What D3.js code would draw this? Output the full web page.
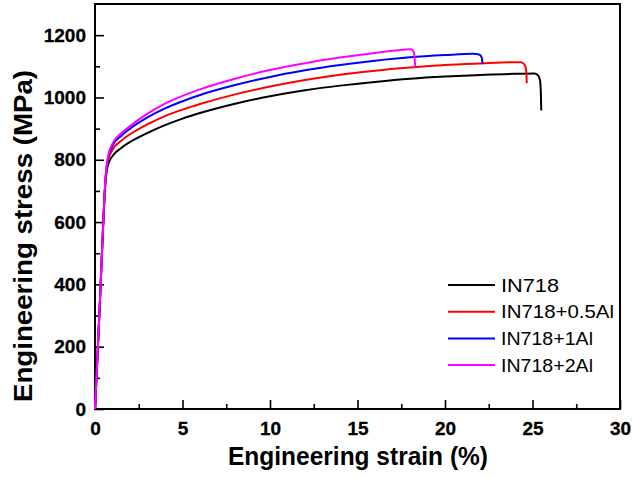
<!DOCTYPE html>
<html>
<head>
<meta charset="utf-8">
<script src="https://cdn.jsdelivr.net/npm/d3@7"></script>
<style>
  body { margin: 0; background: #fff; }
  svg text { font-family: "Liberation Sans", Arial, sans-serif; }
</style>
</head>
<body>
<svg id="chart" width="633" height="477"></svg>
<script>
"use strict";
// values: strain (%) / stress (MPa)
const seriesNames = ['IN718', 'IN718+0.5Al', 'IN718+1Al', 'IN718+2Al'];
const seriesColors = ['#000000', '#ff0000', '#0000ff', '#ff00ff'];

const in718Strain = [0, 0.15, 0.3, 0.45, 0.6, 0.75, 1.0, 1.5, 2, 3, 4, 5, 6, 8, 10, 12, 14, 16, 18, 20, 22, 24, 25.1, 25.3, 25.43, 25.48, 25.5];
const in718Stress = [0, 180, 370, 570, 730, 785, 812, 838, 857, 886, 911, 932, 950, 980, 1004, 1023, 1038, 1050, 1060, 1067, 1072, 1076, 1077, 1072, 1055, 1010, 958];

const al05Strain = [0, 0.15, 0.3, 0.45, 0.6, 0.75, 1.0, 1.5, 2, 3, 4, 5, 6, 8, 10, 12, 14, 16, 18, 20, 22, 24, 24.35, 24.55, 24.64, 24.67];
const al05Stress = [0, 180, 370, 570, 735, 798, 832, 861, 882, 914, 940, 961, 979, 1010, 1035, 1056, 1073, 1086, 1096, 1104, 1109, 1113, 1113, 1105, 1085, 1046];

const al1Strain = [0, 0.15, 0.3, 0.45, 0.6, 0.75, 1.0, 1.5, 2, 3, 4, 5, 6, 8, 10, 12, 14, 16, 18, 20, 21.6, 21.95, 22.1, 22.15];
const al1Stress = [0, 180, 370, 570, 740, 806, 845, 877, 900, 936, 965, 988, 1008, 1040, 1066, 1087, 1104, 1118, 1129, 1136, 1140, 1138, 1128, 1107];

const al2Strain = [0, 0.15, 0.3, 0.45, 0.6, 0.75, 1.0, 1.5, 2, 3, 4, 5, 6, 8, 10, 12, 14, 16, 17.6, 18.05, 18.22, 18.3];
const al2Stress = [0, 180, 370, 570, 745, 812, 852, 885, 908, 948, 980, 1005, 1026, 1060, 1088, 1110, 1128, 1143, 1153, 1155, 1146, 1097];

const xTicks = [0, 5, 10, 15, 20, 25, 30];
const yTicks = [0, 200, 400, 600, 800, 1000, 1200];

const seriesData = [
  d3.zip(in718Strain, in718Stress),
  d3.zip(al05Strain, al05Stress),
  d3.zip(al1Strain, al1Stress),
  d3.zip(al2Strain, al2Stress)
];

const svg = d3.select('#chart');
const plotLeft = 95, plotRight = 620, plotTop = 4, plotBottom = 409;

const x = d3.scaleLinear().domain([0, 30]).range([plotLeft, plotRight]);
const y = d3.scaleLinear().domain([0, 1300]).range([plotBottom, plotTop]);

// minor ticks first (no labels)
svg.append('g')
  .attr('transform', `translate(0,${plotBottom})`)
  .call(d3.axisBottom(x).tickValues(d3.range(2.5, 30, 5)).tickSize(-5).tickFormat(''))
  .call(g => g.select('.domain').remove())
  .call(g => g.selectAll('line').attr('stroke-width', 1.6));
svg.append('g')
  .attr('transform', `translate(${plotLeft},0)`)
  .call(d3.axisLeft(y).tickValues(d3.range(100, 1300, 200)).tickSize(-5).tickFormat(''))
  .call(g => g.select('.domain').remove())
  .call(g => g.selectAll('line').attr('stroke-width', 1.6));

// major axes
const xAxis = svg.append('g')
  .attr('transform', `translate(0,${plotBottom})`)
  .call(d3.axisBottom(x).tickValues(xTicks).tickFormat(d3.format('d'))
    .tickSize(-9).tickSizeOuter(0).tickPadding(13));
const yAxis = svg.append('g')
  .attr('transform', `translate(${plotLeft},0)`)
  .call(d3.axisLeft(y).tickValues(yTicks).tickFormat(d3.format('d'))
    .tickSize(-9).tickSizeOuter(0).tickPadding(9));

[xAxis, yAxis].forEach(g => {
  g.select('.domain').remove();
  g.selectAll('line').attr('stroke-width', 1.6);
  g.selectAll('text')
    .attr('font-size', 19)
    .attr('font-weight', 'bold')
    .attr('fill', '#000')
    .attr('stroke', '#000')
    .attr('stroke-width', 0.3);
});

// frame
svg.append('rect')
  .attr('x', plotLeft).attr('y', plotTop)
  .attr('width', plotRight - plotLeft).attr('height', plotBottom - plotTop)
  .attr('fill', 'none').attr('stroke', '#000').attr('stroke-width', 2);

// curves
const line = d3.line()
  .x(d => x(d[0]))
  .y(d => y(d[1]))
  .curve(d3.curveMonotoneX);

svg.append('g').selectAll('path')
  .data(seriesData)
  .enter()
  .append('path')
  .attr('d', line)
  .attr('fill', 'none')
  .attr('stroke', (d, i) => seriesColors[i])
  .attr('stroke-width', 2)
  .attr('stroke-linejoin', 'round');

// axis titles
svg.append('text')
  .attr('x', 358).attr('y', 465)
  .attr('text-anchor', 'middle')
  .attr('font-size', 25).attr('font-weight', 'bold')
  .attr('textLength', 260).attr('lengthAdjust', 'spacingAndGlyphs')
  .text('Engineering strain (%)');

svg.append('text')
  .attr('transform', 'translate(31.5,236) rotate(-90)')
  .attr('text-anchor', 'middle')
  .attr('font-size', 26.5).attr('font-weight', 'bold')
  .attr('textLength', 332).attr('lengthAdjust', 'spacingAndGlyphs')
  .text('Engineering stress (MPa)');

// legend
const legendWidths = [58, 113, 92, 92];
const legend = svg.append('g').selectAll('g')
  .data(seriesNames)
  .enter()
  .append('g')
  .attr('transform', (d, i) => `translate(448,${285 + i * 26.7})`);

legend.append('line')
  .attr('x1', 0).attr('x2', 47)
  .attr('stroke', (d, i) => seriesColors[i])
  .attr('stroke-width', 2);

legend.append('text')
  .attr('x', 53).attr('dy', '0.35em')
  .attr('font-size', 19)
  .attr('textLength', (d, i) => legendWidths[i]).attr('lengthAdjust', 'spacingAndGlyphs')
  .text(d => d);
</script>
</body>
</html>
